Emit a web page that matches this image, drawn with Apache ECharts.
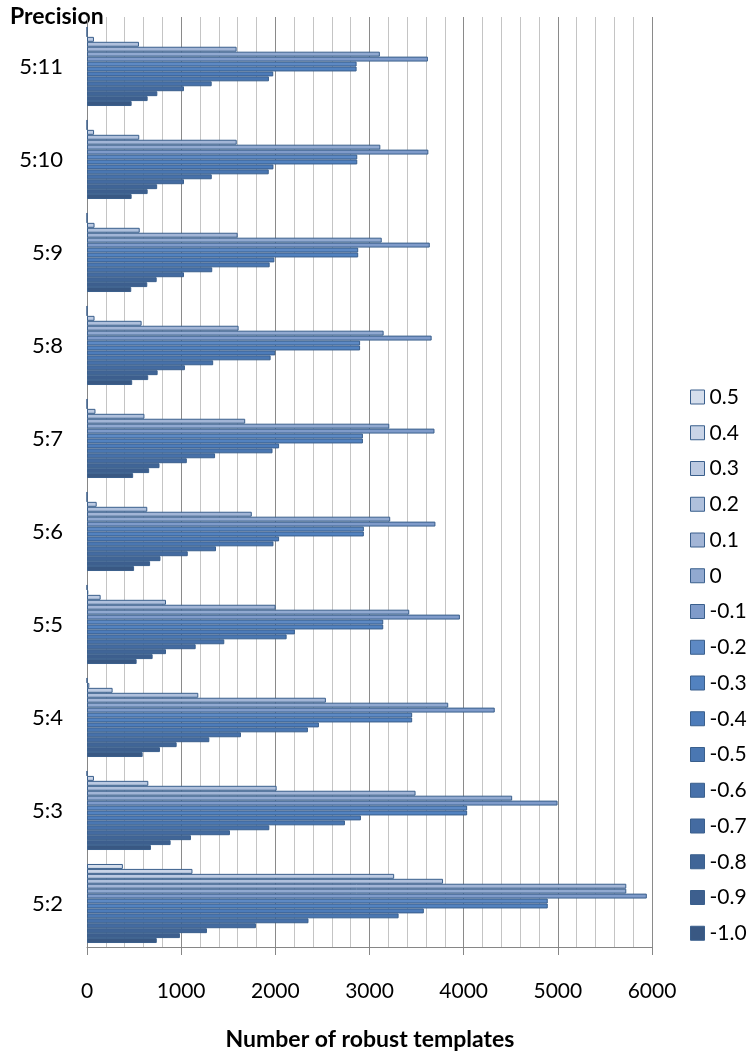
<!DOCTYPE html>
<html>
<head>
<meta charset="utf-8">
<script src="https://cdn.jsdelivr.net/npm/echarts@6/dist/echarts.min.js"></script>
<style>
html,body{margin:0;padding:0;background:#fff;}
#chart{width:751px;height:1055px;}
</style>
</head>
<body>
<div id="chart"></div>
<script>
// Categories, bottom to top
const categories = ['5:2','5:3','5:4','5:5','5:6','5:7','5:8','5:9','5:10','5:11'];
// Series names, top of each group to bottom
const seriesNames = ['0.5','0.4','0.3','0.2','0.1','0','-0.1','-0.2','-0.3','-0.4','-0.5','-0.6','-0.7','-0.8','-0.9','-1.0'];
// Values per precision, in series order 0.5 ... -1.0
const v_5_2  = [381, 1120, 3262, 3781, 5727, 5727, 5945, 4893, 4893, 3577, 3309, 2352, 1794, 1274, 987, 741];
const v_5_3  = [0, 74, 651, 2014, 3489, 4515, 4997, 4037, 4037, 2909, 2739, 1936, 1518, 1104, 888, 679];
const v_5_4  = [0, 25, 272, 1182, 2537, 3836, 4330, 3453, 3453, 2463, 2346, 1635, 1299, 952, 775, 591];
const v_5_5  = [0, 14, 145, 839, 2003, 3422, 3960, 3146, 3146, 2208, 2120, 1458, 1154, 839, 697, 527];
const v_5_6  = [0, 0, 103, 640, 1750, 3220, 3700, 2940, 2940, 2040, 1980, 1370, 1070, 780, 670, 500];
const v_5_7  = [0, 0, 90, 610, 1680, 3210, 3690, 2930, 2930, 2040, 1970, 1360, 1060, 770, 660, 490];
const v_5_8  = [0, 0, 80, 580, 1610, 3150, 3660, 2900, 2900, 2000, 1950, 1340, 1040, 750, 650, 480];
const v_5_9  = [0, 0, 80, 560, 1600, 3130, 3640, 2880, 2880, 1990, 1940, 1330, 1030, 740, 640, 470];
const v_5_10 = [0, 0, 75, 555, 1590, 3115, 3625, 2870, 2870, 1980, 1930, 1325, 1030, 745, 644, 474];
const v_5_11 = [0, 0, 74, 552, 1589, 3110, 3620, 2863, 2863, 1978, 1932, 1324, 1030, 747, 644, 474];
const xTicks = [0, 1000, 2000, 3000, 4000, 5000, 6000];

const rows = [v_5_2, v_5_3, v_5_4, v_5_5, v_5_6, v_5_7, v_5_8, v_5_9, v_5_10, v_5_11];
const colors = ['#d5deec','#c9d4e7','#bccae2','#afc0dc','#a2b5d6','#91a9d0','#7f9bca','#5d89c4',
                '#5282c0','#4d7cba','#4a77b2','#4771aa','#446ba1','#406597','#3d5f8e','#395883'];
const FONT = 'Lato, "Open Sans", sans-serif';
const GRAY = '#868686';

const series = seriesNames.map((name, i) => ({
  type: 'bar',
  name: name,
  xAxisIndex: 1,
  yAxisIndex: 1,
  data: rows.map(r => r[i]),
  barGap: '0%',
  barCategoryGap: '15%',
  itemStyle: { color: colors[i], borderColor: '#3a5f8c', borderWidth: 1 },
  emphasis: { disabled: true },
  silent: true
}));

const chart = echarts.init(document.getElementById('chart'), null, { renderer: 'canvas' });
chart.setOption({
  animation: false,
  backgroundColor: '#ffffff',
  textStyle: { fontFamily: FONT },
  grid: [
    { left: 87, right: 99, top: 17, bottom: 108, containLabel: false },
    { left: 87, right: 99, top: 20, bottom: 105, containLabel: false }
  ],
  xAxis: [
    {
      gridIndex: 0, type: 'value', min: xTicks[0], max: xTicks[xTicks.length - 1], interval: 1000,
      axisLine: { show: true, lineStyle: { color: GRAY, width: 1 } },
      axisTick: { show: true, length: 8, lineStyle: { color: GRAY } },
      axisLabel: { fontSize: 21, color: '#000', margin: 34, fontFamily: FONT, lineHeight: 21,
                   formatter: v => String(v) },
      splitLine: { show: true, lineStyle: { color: '#8a8a8a', width: 1 } },
      minorTick: { show: false, splitNumber: 5 },
      minorSplitLine: { show: true, lineStyle: { color: '#c4c4c4', width: 1 } }
    },
    {
      gridIndex: 1, type: 'value', min: xTicks[0], max: xTicks[xTicks.length - 1], show: false
    }
  ],
  yAxis: [
    {
      gridIndex: 0, type: 'category', data: categories,
      axisLine: { show: true, lineStyle: { color: GRAY, width: 1 } },
      axisTick: { show: false },
      axisLabel: { show: false },
      splitLine: { show: false }
    },
    {
      gridIndex: 1, type: 'category', data: categories,
      axisLine: { show: false },
      axisTick: { show: false },
      axisLabel: { show: true, fontSize: 22, color: '#000', margin: 24, fontFamily: FONT },
      splitLine: { show: false }
    }
  ],
  legend: {
    data: seriesNames,
    orient: 'vertical',
    left: 690,
    top: 385,
    icon: 'rect',
    itemWidth: 14,
    itemHeight: 14,
    itemGap: 11.75,
    padding: 0,
    textStyle: { fontSize: 21, color: '#000', fontFamily: FONT, lineHeight: 24, padding: [0, 0, 0, 0] },
    itemStyle: { borderColor: '#3a5f8c', borderWidth: 1 },
    selectedMode: false
  },
  graphic: [
    { type: 'text', left: 10, top: 5, style: { text: 'Precision', font: 'bold 23px ' + FONT, fill: '#000' } },
    { type: 'text', x: 370, y: 1040, style: { text: 'Number of robust templates', font: 'bold 23px ' + FONT, fill: '#000', textAlign: 'center', textVerticalAlign: 'middle' } }
  ],
  series: series
});
</script>
</body>
</html>
